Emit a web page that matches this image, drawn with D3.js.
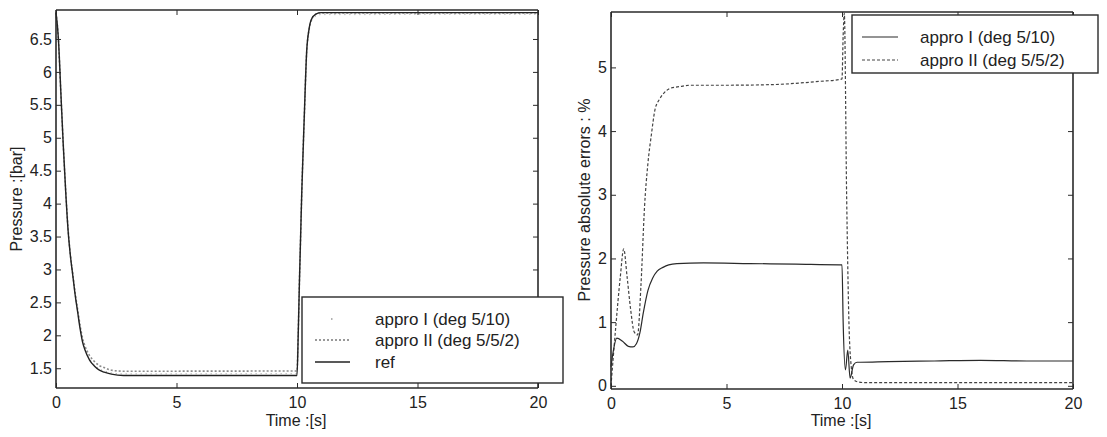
<!DOCTYPE html>
<html>
<head>
<meta charset="utf-8">
<script src="https://cdn.jsdelivr.net/npm/d3@7"></script>
<style>
  html, body { margin: 0; padding: 0; background: #fff; }
  svg { display: block; font-family: "Liberation Sans", Arial, Helvetica, sans-serif; }
  text { fill: #222; }
</style>
</head>
<body>
<svg id="chart" width="1107" height="437"></svg>
<script>
// ---------------- DATA ----------------
// Left panel: pressure [bar] vs time [s]
const timeLeft = [0,0.1,0.2,0.3,0.4,0.5,0.6,0.7,0.8,0.9,1.0,1.1,1.2,1.4,1.6,1.8,2.0,2.3,2.8,4,6,8,10,10.05,10.1,10.15,10.2,10.3,10.4,10.5,10.6,10.8,11,13,15,17,20];
const pressureRef = [6.9,6.5,5.7,4.9,4.2,3.6,3.2,2.9,2.6,2.35,2.1,1.9,1.78,1.62,1.53,1.47,1.44,1.41,1.39,1.39,1.39,1.39,1.39,2.0,2.8,3.5,4.2,5.3,6.3,6.65,6.8,6.88,6.9,6.9,6.9,6.9,6.9];
const pressureApproI = [6.9,6.48,5.68,4.9,4.22,3.63,3.22,2.91,2.61,2.36,2.11,1.92,1.8,1.64,1.55,1.49,1.46,1.43,1.415,1.415,1.416,1.417,1.418,2.0,2.78,3.48,4.18,5.27,6.26,6.62,6.77,6.85,6.87,6.87,6.875,6.875,6.875];
const pressureApproII = [6.9,6.49,5.69,4.9,4.21,3.62,3.21,2.92,2.63,2.39,2.15,1.96,1.84,1.69,1.6,1.54,1.51,1.47,1.455,1.455,1.456,1.457,1.458,2.02,2.8,3.49,4.2,5.29,6.29,6.64,6.79,6.88,6.895,6.895,6.896,6.896,6.896];

// Right panel: absolute errors [%] vs time [s]
const timeErrI = [0,0.1,0.25,0.5,0.75,0.95,1.1,1.25,1.4,1.6,1.8,2.0,2.25,2.5,2.85,4,6,8,9.9,10.0,10.05,10.15,10.25,10.35,10.5,10.65,10.8,12,14,16,18,20];
const errApproI = [0.3,0.55,0.75,0.7,0.62,0.61,0.66,0.83,1.15,1.5,1.69,1.8,1.86,1.9,1.92,1.93,1.92,1.91,1.9,1.9,1.0,0.25,0.56,0.12,0.33,0.37,0.37,0.38,0.39,0.4,0.39,0.39];
const timeErrII = [0,0.2,0.4,0.55,0.7,0.85,1.0,1.15,1.3,1.45,1.6,1.75,1.9,2.1,2.3,2.55,3.0,3.4,5,7,8,9,9.9,10.0,10.05,10.1,10.2,10.3,10.4,10.5,10.7,11,13,15,17,19.9,20];
const errApproII = [0.0,0.9,1.7,2.15,1.7,1.2,0.85,0.8,1.6,2.8,3.5,3.95,4.33,4.5,4.6,4.67,4.7,4.72,4.72,4.73,4.75,4.78,4.81,4.82,5.5,5.85,3.0,1.0,0.3,0.1,0.06,0.05,0.05,0.05,0.05,0.05,0.05];

// Ticks and labels
const xTicks = [0,5,10,15,20];
const yTicksLeft = [1.5,2,2.5,3,3.5,4,4.5,5,5.5,6,6.5];
const yTicksRight = [0,1,2,3,4,5];
const legendLeft = ["appro I (deg 5/10)", "appro II (deg 5/5/2)", "ref"];
const legendRight = ["appro I (deg 5/10)", "appro II (deg 5/5/2)"];
const xLabel = "Time :[s]";
const yLabelLeft = "Pressure :[bar]";
const yLabelRight = "Pressure absolute errors : %";

// ---------------- DRAW ----------------
const svg = d3.select("#chart");
const AX = "#2a2a2a";

function panel(opts) {
  const g = svg.append("g");
  const x = d3.scaleLinear().domain([0, 20]).range([opts.x0, opts.x1]);
  const y = d3.scaleLinear().domain(opts.yDomain).range([opts.y1, opts.y0]);
  const tl = 5;

  // curves
  opts.series.forEach(s => {
    const pts = s.t.map((t, i) => [t, s.v[i]]);
    g.append("path")
      .datum(pts)
      .attr("fill", "none")
      .attr("stroke", s.color)
      .attr("stroke-width", s.width)
      .attr("stroke-dasharray", s.dash || null)
      .attr("d", d3.line().x(d => x(d[0])).y(d => y(d[1])).curve(d3.curveMonotoneX));
  });

  // axes
  const bottom = g.append("g").attr("transform", `translate(0,${opts.y1})`)
    .call(d3.axisBottom(x).tickValues(xTicks).tickSize(-tl).tickPadding(9).tickFormat(d3.format("d")));
  const top = g.append("g").attr("transform", `translate(0,${opts.y0})`)
    .call(d3.axisTop(x).tickValues(xTicks).tickSize(-tl).tickFormat(""));
  const left = g.append("g").attr("transform", `translate(${opts.x0},0)`)
    .call(d3.axisLeft(y).tickValues(opts.yTicks).tickSize(-tl).tickPadding(4).tickFormat(d => String(d)));
  const right = g.append("g").attr("transform", `translate(${opts.x1},0)`)
    .call(d3.axisRight(y).tickValues(opts.yTicks).tickSize(-tl).tickFormat(""));
  [bottom, top, left, right].forEach(a => {
    a.select(".domain").attr("stroke", AX).attr("stroke-width", 1.6);
    a.selectAll(".tick line").attr("stroke", AX).attr("stroke-width", 1);
    a.selectAll("text").attr("fill", "#222").style("font-size", "16px")
      .style("font-family", '"Liberation Sans", Arial, sans-serif');
  });
  bottom.select(".domain").attr("d", `M${opts.x0},0H${opts.x1}`);
  top.select(".domain").attr("d", `M${opts.x0},0H${opts.x1}`);
  left.select(".domain").attr("d", `M0,${opts.y0}V${opts.y1}`);
  right.select(".domain").attr("d", `M0,${opts.y0}V${opts.y1}`);

  // axis labels
  g.append("text")
    .attr("x", (opts.x0 + opts.x1) / 2 - 1)
    .attr("y", 426)
    .attr("text-anchor", "middle")
    .style("font-size", "16px")
    .text(xLabel);
  g.append("text")
    .attr("transform", `translate(${opts.yLabelX},${opts.yLabelY}) rotate(-90)`)
    .attr("text-anchor", "middle")
    .style("font-size", "16px")
    .text(opts.yLabel);

  // legend
  const L = opts.legend;
  g.append("rect")
    .attr("x", L.x).attr("y", L.y).attr("width", L.w).attr("height", L.h)
    .attr("fill", "#fff").attr("stroke", AX).attr("stroke-width", 1.4);
  L.items.forEach((it, i) => {
    const cy = L.rowY[i];
    g.append("line")
      .attr("x1", L.symX0).attr("x2", L.symX1).attr("y1", cy).attr("y2", cy)
      .attr("stroke", it.color).attr("stroke-width", it.width)
      .attr("stroke-dasharray", it.dash || null)
      .attr("stroke-dashoffset", it.dashOffset || null);
    g.append("text")
      .attr("x", L.textX).attr("y", cy + 6)
      .style("font-size", "17px")
      .text(it.label);
  });
  return {x, y};
}

// Left panel
panel({
  x0: 56, x1: 538, y0: 10, y1: 388,
  yDomain: [1.2, 6.94],
  yTicks: yTicksLeft,
  yLabel: yLabelLeft, yLabelX: 22, yLabelY: 199,
  series: [
    {t: timeLeft, v: pressureApproII, color: "#8a8a8a", width: 1.6, dash: "2,2"},
    {t: timeLeft, v: pressureApproI, color: "#9a9a9a", width: 1, dash: "1,4"},
    {t: timeLeft, v: pressureRef, color: "#222", width: 1.4}
  ],
  legend: {
    x: 302, y: 297, w: 261, h: 86,
    symX0: 315, symX1: 350, textX: 375,
    rowY: [319, 340, 362],
    items: [
      {label: legendLeft[0], color: "#999", width: 1.4, dash: "1.5,40", dashOffset: -16},
      {label: legendLeft[1], color: "#999", width: 1.8, dash: "2,2"},
      {label: legendLeft[2], color: "#222", width: 1.4}
    ]
  }
});

// Right panel
panel({
  x0: 611, x1: 1073, y0: 12, y1: 389,
  yDomain: [-0.05, 5.87],
  yTicks: yTicksRight,
  yLabel: yLabelRight, yLabelX: 590, yLabelY: 200,
  series: [
    {t: timeErrII, v: errApproII, color: "#444", width: 1.2, dash: "3,2"},
    {t: timeErrI, v: errApproI, color: "#2a2a2a", width: 1.2}
  ],
  legend: {
    x: 852, y: 15, w: 246, h: 58,
    symX0: 862, symX1: 898, textX: 920,
    rowY: [37, 60],
    items: [
      {label: legendRight[0], color: "#2a2a2a", width: 1.2},
      {label: legendRight[1], color: "#444", width: 1.2, dash: "3,2"}
    ]
  }
});
</script>
</body>
</html>
